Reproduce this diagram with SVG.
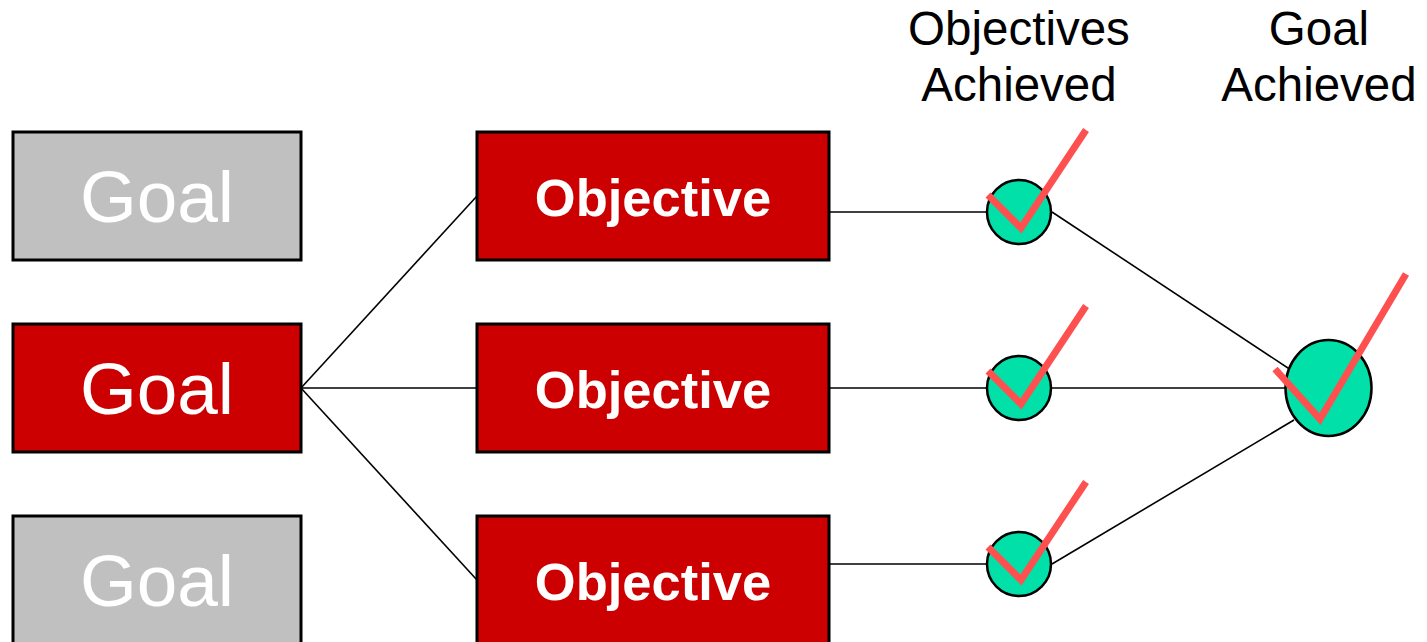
<svg xmlns="http://www.w3.org/2000/svg" width="1427" height="642" viewBox="0 0 1427 642">
<style>
.box{stroke:#000;stroke-width:3}
.gray{fill:#C0C0C0}
.red{fill:#CC0000}
.goal{font-family:"Liberation Sans",Arial,sans-serif;font-size:73px;fill:#fff;text-anchor:middle}
.obj{font-family:"Liberation Sans",Arial,sans-serif;font-size:52.5px;font-weight:bold;fill:#fff;text-anchor:middle}
.hdr{font-family:"Liberation Sans",Arial,sans-serif;font-size:47.5px;fill:#000;text-anchor:middle}
.dot{fill:#00E0A8;stroke:#000;stroke-width:2.5}
.chk{fill:none;stroke:#FF5050;stroke-width:7;stroke-linecap:butt;stroke-linejoin:miter}
.ln{stroke:#000;stroke-width:1.6;fill:none}
</style>
<rect width="1427" height="642" fill="#fff"/>
<g id="connectors">
<line class="ln" x1="301" y1="388" x2="477" y2="196"/>
<line class="ln" x1="301" y1="388" x2="477" y2="388"/>
<line class="ln" x1="301" y1="388" x2="477" y2="580"/>
<line class="ln" x1="829" y1="212" x2="987" y2="212"/>
<line class="ln" x1="829" y1="388" x2="987" y2="388"/>
<line class="ln" x1="829" y1="564" x2="987" y2="564"/>
<line class="ln" x1="1052" y1="212" x2="1294" y2="372"/>
<line class="ln" x1="1052" y1="388" x2="1294" y2="388"/>
<line class="ln" x1="1052" y1="564" x2="1294" y2="420"/>
</g>
<g id="goal1"><rect class="box gray" x="13" y="132" width="288" height="128"/><text class="goal" x="157" y="222">Goal</text></g>
<g id="goal2"><rect class="box red" x="13" y="324" width="288" height="128"/><text class="goal" x="157" y="414">Goal</text></g>
<g id="goal3"><rect class="box gray" x="13" y="516" width="288" height="128"/><text class="goal" x="157" y="606">Goal</text></g>
<g id="objective1"><rect class="box red" x="477" y="132" width="352" height="128"/><text class="obj" x="653" y="216">Objective</text></g>
<g id="objective2"><rect class="box red" x="477" y="324" width="352" height="128"/><text class="obj" x="653" y="408">Objective</text></g>
<g id="objective3"><rect class="box red" x="477" y="516" width="352" height="128"/><text class="obj" x="653" y="600">Objective</text></g>
<g id="header-objectives"><text class="hdr" x="1019" y="45">Objectives</text><text class="hdr" x="1019" y="101">Achieved</text></g>
<g id="header-goal"><text class="hdr" x="1319" y="45">Goal</text><text class="hdr" x="1319" y="101">Achieved</text></g>
<g id="done1"><circle class="dot" cx="1019" cy="212" r="32"/><polyline class="chk" points="988,195 1021,228 1086,130"/></g>
<g id="done2"><circle class="dot" cx="1019" cy="388" r="32"/><polyline class="chk" points="988,371 1021,404 1086,306"/></g>
<g id="done3"><circle class="dot" cx="1019" cy="564" r="32"/><polyline class="chk" points="988,547 1021,580 1086,482"/></g>
<g id="goal-done"><ellipse class="dot" cx="1328.5" cy="388" rx="43" ry="48"/><polyline class="chk" points="1275,369 1320,419 1406,274"/></g>
</svg>
